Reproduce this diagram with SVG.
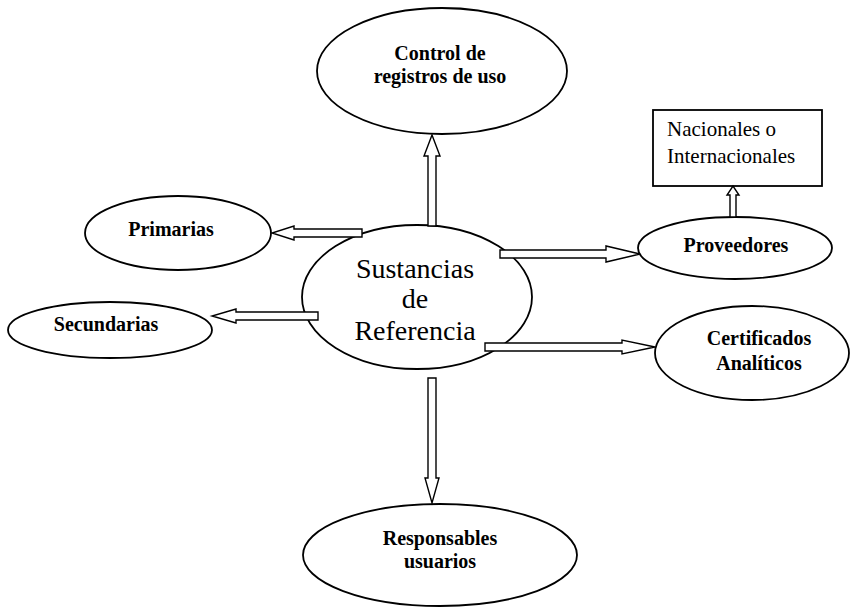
<svg xmlns="http://www.w3.org/2000/svg" width="861" height="608" viewBox="0 0 861 608">
<style>
.n{fill:#fff;stroke:#000;stroke-width:1.8}
.b{font-family:"Liberation Serif",serif;font-weight:bold;font-size:20px;text-anchor:middle;fill:#000}
.r{font-family:"Liberation Serif",serif;font-size:21px;fill:#000}
.c{font-family:"Liberation Serif",serif;font-size:28px;text-anchor:middle;fill:#000}
.a{fill:#fff;stroke:#000;stroke-width:1.4;stroke-linejoin:miter}
</style>
<rect width="861" height="608" fill="#fff"/>
<g id="control">
<ellipse class="n" cx="442" cy="71" rx="125" ry="63"/>
<text class="b" x="440" y="60">Control de</text>
<text class="b" x="440" y="83">registros de uso</text>
</g>
<g id="sustancias">
<ellipse class="n" cx="417" cy="297" rx="115" ry="72"/>
<text class="c" x="415" y="278">Sustancias</text>
<text class="c" x="415" y="308">de</text>
<text class="c" x="415" y="340">Referencia</text>
</g>
<g id="primarias">
<ellipse class="n" cx="178" cy="233" rx="93" ry="37"/>
<text class="b" x="171" y="236">Primarias</text>
</g>
<g id="secundarias">
<ellipse class="n" cx="110" cy="330" rx="102" ry="28"/>
<text class="b" x="106" y="331">Secundarias</text>
</g>
<g id="proveedores">
<ellipse class="n" cx="735" cy="248" rx="97" ry="31"/>
<text class="b" x="736" y="252">Proveedores</text>
</g>
<g id="nacionales">
<rect class="n" x="653" y="110" width="169" height="76"/>
<text class="r" x="667" y="136">Nacionales o</text>
<text class="r" x="667" y="163">Internacionales</text>
</g>
<g id="certificados">
<ellipse class="n" cx="752" cy="353" rx="97" ry="47"/>
<text class="b" x="759" y="345">Certificados</text>
<text class="b" x="759" y="370">Analíticos</text>
</g>
<g id="responsables">
<ellipse class="n" cx="440" cy="555" rx="137" ry="51"/>
<text class="b" x="440" y="545">Responsables</text>
<text class="b" x="440" y="568">usuarios</text>
</g>
<g id="connectors">
<polygon class="a" points="428,226 428,156 424,156 432,135 440,156 436,156 436,226"/>
<polygon class="a" points="362,229 294,229 294,226 272,233 294,240 294,237 362,237"/>
<polygon class="a" points="318,312 236,312 236,309 212,316 236,323 236,320 318,320"/>
<polygon class="a" points="500,250 606,250 606,246 640,254 606,262 606,258 500,258"/>
<polygon class="a" points="485,343 622,343 622,340 655,347 622,354 622,351 485,351"/>
<polygon class="a" points="428,378 428,478 425,478 432,503 439,478 436,478 436,378"/>
<polygon class="a" points="730,217 730,195 727,195 733,186 739,195 736,195 736,217"/>
</g>
</svg>
